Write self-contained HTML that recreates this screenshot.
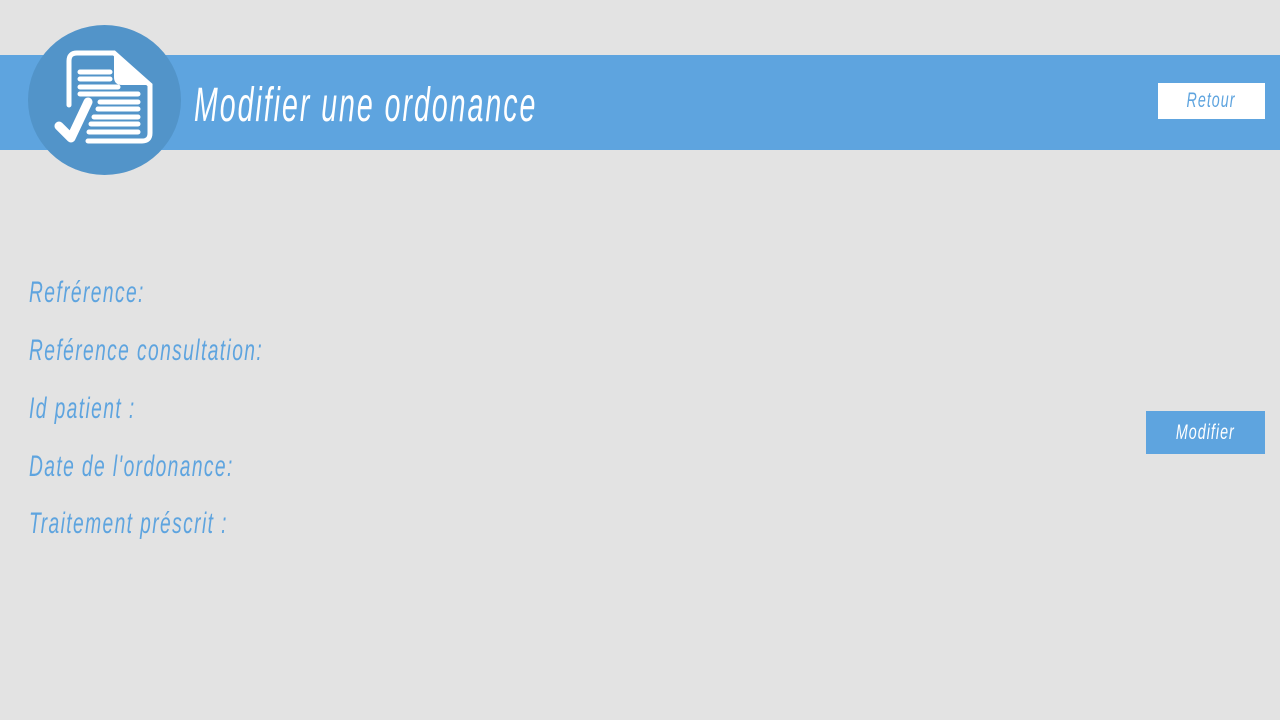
<!DOCTYPE html>
<html><head><meta charset="utf-8"><style>
body{margin:0;width:1280px;height:720px;background:#e3e3e3;position:relative;overflow:hidden;font-family:"Liberation Sans Narrow","Liberation Sans",sans-serif;font-style:italic}
.banner{position:absolute;left:0;top:55px;width:1280px;height:95px;background:#5ea4df}
.circle{position:absolute;left:28px;top:25px;width:153px;height:150px;border-radius:50%;background:#5294c9}
.title{position:absolute;left:194px;top:76px;color:#fff;font-size:46px;letter-spacing:3.2px;white-space:nowrap;transform:scale(0.62,1.05);transform-origin:left top}
.lbl{position:absolute;left:29px;color:#5ea4df;font-size:30px;letter-spacing:2.2px;white-space:nowrap;transform:scaleX(0.64);transform-origin:left top}
.btn{position:absolute;text-align:center;font-size:21px;letter-spacing:1.5px}
.btn span{display:inline-block;transform:scaleX(0.68)}
</style></head><body>
<div class="banner"></div>
<div class="circle"></div>
<svg style="position:absolute;left:28px;top:25px" width="153" height="150" viewBox="0 0 153 150">
<g fill="none" stroke="#fff" stroke-width="5" stroke-linecap="round">
<path d="M41 80 V36 Q41 28 49 28 H86 L122 60 V108 Q122 116 114 116 H60"/>
<line x1="52" y1="47" x2="82" y2="47"/><line x1="52" y1="54" x2="82" y2="54"/><line x1="52" y1="62" x2="90" y2="62"/>
<line x1="52" y1="69" x2="110" y2="69"/><line x1="72" y1="77" x2="110" y2="77"/><line x1="70" y1="84" x2="110" y2="84"/>
<line x1="66" y1="92" x2="110" y2="92"/><line x1="63" y1="99" x2="110" y2="99"/><line x1="61" y1="107" x2="110" y2="107"/>
</g>
<path d="M86 28 L122 60 H94 Q86 60 86 52Z" fill="#fff"/>
<path d="M31 101 L43 113 L60 77" fill="none" stroke="#fff" stroke-width="9" stroke-linecap="round" stroke-linejoin="round"/>
</svg>
<div class="title">Modifier une ordonance</div>
<div class="btn" style="left:1158px;top:83px;width:107px;height:36px;line-height:36px;background:#fff;color:#5ea4df"><span>Retour</span></div>
<div class="lbl" style="top:276px">Refrérence:</div>
<div class="lbl" style="top:334px">Reférence consultation:</div>
<div class="lbl" style="top:392px">Id patient :</div>
<div class="lbl" style="top:450px">Date de l'ordonance:</div>
<div class="lbl" style="top:507px">Traitement préscrit :</div>
<div class="btn" style="left:1146px;top:411px;width:119px;height:43px;line-height:43px;background:#5ea4df;color:#fff"><span>Modifier</span></div>
</body></html>
